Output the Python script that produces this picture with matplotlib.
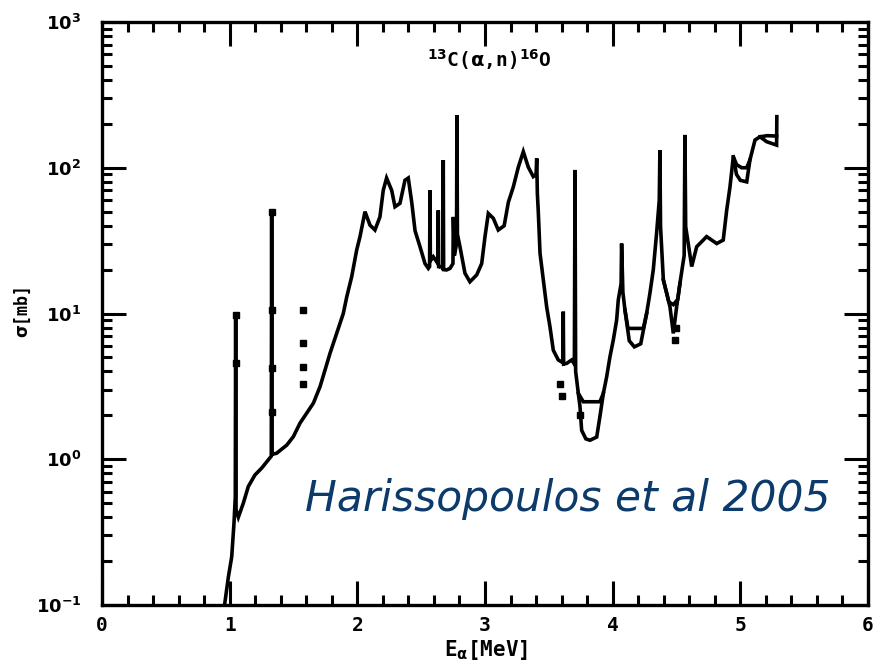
import numpy as np
import matplotlib
matplotlib.use("Agg")
import matplotlib.pyplot as plt
from matplotlib.ticker import MultipleLocator, LogLocator, FixedLocator, NullFormatter

# 13C(a,n)16O cross section (E in MeV, sigma in mb)
E_main = [0.96, 0.99, 1.016, 1.034, 1.044, 1.047, 1.050, 1.068, 1.107, 1.146,
          1.198, 1.251, 1.303, 1.326, 1.329, 1.332, 1.368, 1.447, 1.499, 1.551,
          1.603, 1.655, 1.708, 1.747, 1.786, 1.838, 1.890, 1.917, 1.956, 1.995,
          2.021, 2.060, 2.099, 2.138, 2.177, 2.203, 2.229, 2.269, 2.295, 2.334,
          2.373, 2.399, 2.426, 2.452, 2.491, 2.530, 2.556, 2.566, 2.569, 2.572,
          2.595, 2.631, 2.634, 2.637, 2.661, 2.670, 2.673, 2.676, 2.699, 2.726,
          2.749, 2.752, 2.760, 2.777, 2.780, 2.784, 2.804, 2.843, 2.882, 2.935,
          2.974, 3.000, 3.026, 3.065, 3.104, 3.150, 3.183, 3.222, 3.261, 3.300,
          3.339, 3.378, 3.400, 3.405, 3.410, 3.418, 3.431, 3.457, 3.483, 3.509,
          3.535, 3.574, 3.610, 3.613, 3.616, 3.640, 3.679, 3.700, 3.705, 3.710,
          3.731, 3.770, 3.900, 3.927, 3.953, 3.979, 4.005, 4.031, 4.044, 4.066,
          4.070, 4.080, 4.096, 4.120, 4.240, 4.266, 4.292, 4.318, 4.344, 4.365,
          4.370, 4.375, 4.397, 4.423, 4.449, 4.475, 4.501, 4.527, 4.560, 4.566,
          4.572, 4.592, 4.619, 4.658, 4.736, 4.815, 4.866, 4.893, 4.919, 4.945,
          4.971, 5.010, 5.050, 5.075, 5.115, 5.154, 5.206, 5.284, 5.286]
sig_main = [0.10, 0.156, 0.214, 0.366, 0.55, 9.8, 0.45, 0.40, 0.50, 0.65,
            0.78, 0.87, 0.99, 1.05, 50, 1.08, 1.10, 1.25, 1.43, 1.77,
            2.07, 2.42, 3.15, 4.10, 5.33, 7.3, 10.0, 13.0, 17.9, 27.3,
            33.7, 50, 40.4, 37.4, 46, 70, 85, 70, 54, 57,
            82, 85, 58, 37, 28.7, 22, 20.4, 21, 70, 23,
            24.5, 22, 51, 21, 21, 20, 113, 20, 19.9, 20.4,
            22, 46, 25, 30, 230, 35, 28.7, 18.9, 16.5, 18.4,
            22, 33.7, 48.6, 45, 37.4, 40, 58, 74, 101, 129,
            101, 87, 90, 116, 67, 48.6, 25.9, 17, 11.1, 8.1,
            5.6, 4.8, 4.6, 10.3, 4.5, 4.55, 4.8, 4.5, 96.6, 4.0,
            2.83, 2.48, 2.48, 2.83, 3.68, 5.06, 6.58, 9.0, 12.4, 16,
            30.2, 14, 10.6, 7.9, 7.9, 10.0, 13.8, 19.9, 35.5, 60,
            132, 39.4, 17, 13.8, 11.1, 7.3, 11.1, 16.1, 25, 168,
            39.4, 30, 21, 28.7, 33.7, 30.2, 31.9, 51, 74, 119,
            105, 100, 100, 113, 155, 163, 151, 143, 224]

# second trace where the two data sets separate (nan = break)
E_alt = [3.731, 3.744, 3.757, 3.790, 3.822, 3.875, 3.900, 3.927, np.nan,
         4.096, 4.130, 4.170, 4.220, 4.266, np.nan,
         4.397, 4.440, 4.475, 4.510, 4.527, np.nan,
         4.945, 4.970, 5.000, 5.050, 5.075, np.nan,
         5.154, 5.210, 5.284]
sig_alt = [2.83, 2.3, 1.58, 1.38, 1.35, 1.42, 1.96, 2.83, np.nan,
           10.6, 6.5, 5.9, 6.2, 10.0, np.nan,
           17, 12, 11.5, 12.5, 16.1, np.nan,
           119, 90, 82, 80, 113, np.nan,
           163, 166, 165]

# isolated points
E_pts = [1.047, 1.047, 1.329, 1.329, 1.329, 1.329, 1.577, 1.577, 1.577, 1.577,
         3.590, 3.600, 3.745, 4.490, 4.500]
sig_pts = [9.8, 4.6, 50, 10.6, 4.2, 2.1, 10.6, 6.3, 4.3, 3.3,
           3.3, 2.7, 2.0, 6.6, 8.0]

xticks = [0, 1, 2, 3, 4, 5, 6]
xticklabels = ['0', '1', '2', '3', '4', '5', '6']
yticks = [0.1, 1, 10, 100, 1000]
yticklabels = [r'$\mathbf{10^{-1}}$', r'$\mathbf{10^{0}}$', r'$\mathbf{10^{1}}$',
               r'$\mathbf{10^{2}}$', r'$\mathbf{10^{3}}$']

plt.rcParams['font.family'] = ['DejaVu Sans Mono', 'DejaVu Sans']
plt.rcParams['mathtext.fontset'] = 'dejavusans'

fig = plt.figure(figsize=(8.78, 6.71), dpi=100)
ax = fig.add_axes([102/878, 66/671, 766/878, 583/671])

ax.plot(E_main, sig_main, color='k', lw=2.6, solid_joinstyle='miter')
ax.plot(E_alt, sig_alt, color='k', lw=2.6, solid_joinstyle='miter')
ax.plot(E_pts, sig_pts, ls='none', marker='s', ms=4, color='k')

ax.set_yscale('log')
ax.set_xlim(0, 6)
ax.set_ylim(0.1, 1000)

ax.xaxis.set_major_locator(FixedLocator(xticks))
ax.set_xticklabels(xticklabels, fontsize=14, fontweight='bold')
ax.xaxis.set_minor_locator(MultipleLocator(0.2))
ax.yaxis.set_major_locator(FixedLocator(yticks))
ax.set_yticklabels(yticklabels, fontsize=13)
ax.yaxis.set_minor_locator(LogLocator(base=10, subs=np.arange(2, 10)))
ax.yaxis.set_minor_formatter(NullFormatter())

for s in ax.spines.values():
    s.set_linewidth(2.4)
ax.tick_params(which='both', direction='in', top=True, right=True, width=2.2)
ax.tick_params(which='major', length=17)
ax.tick_params(which='minor', length=7)
ax.tick_params(axis='x', which='major', pad=8)
ax.tick_params(axis='y', which='major', pad=15)

ax.text(0.505, 0.935, r'$^{\mathbf{13}}$C($\mathbf{\alpha}$,n)$^{\mathbf{16}}$O',
        transform=ax.transAxes, ha='center', va='center', fontsize=14,
        fontweight='bold')
fig.text(486/878, 1 - 650/671, r'E$_{\mathbf{\alpha}}$[MeV]', ha='center',
         va='center', fontsize=15, fontweight='bold')
fig.text(23/878, 1 - 312/671, r'$\mathbf{\sigma}$[mb]', ha='center',
         va='center', rotation=90, fontsize=12, fontweight='bold')

ax.text((305 - 102)/766, (605 - 511)/583, 'Harissopoulos et al 2005',
        transform=ax.transAxes, fontsize=30.5, style='italic',
        color='#0b3a6b', family='DejaVu Sans')

fig.savefig('out.png', dpi=100)
